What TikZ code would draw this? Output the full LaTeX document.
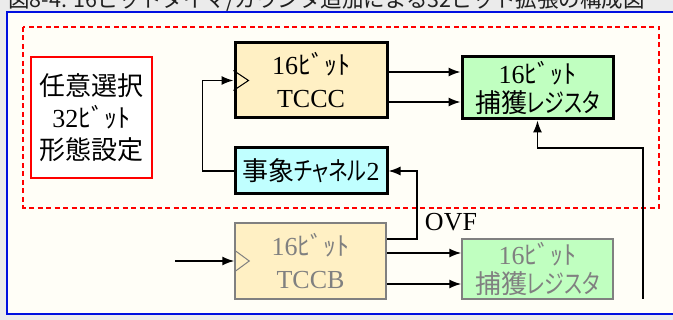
\documentclass[tikz,border=0pt]{standalone}
\usepackage{fontspec}
\setmainfont{Liberation Serif}
\newfontfamily\jp{Noto Sans CJK JP}[RawFeature=+palt]
\newfontfamily\jpk{Noto Sans CJK JP}[RawFeature=+palt, FakeStretch=0.77]
\newfontfamily\jptitle{Noto Sans CJK JP}
\usetikzlibrary{arrows.meta,calc}
\definecolor{bggray}{HTML}{EBEBEB}
\definecolor{panelfill}{HTML}{FFFEF7}
\definecolor{panelblue}{HTML}{0010E0}
\definecolor{dashred}{HTML}{FF0000}
\definecolor{tcfill}{HTML}{FFF0C4}
\definecolor{capfill}{HTML}{C0FFC0}
\definecolor{evfill}{HTML}{C0FFFF}
\definecolor{dimgray}{HTML}{808080}
\definecolor{titlecol}{HTML}{202020}
\newcommand\bitk{{\jp ﾋﾞｯﾄ}}
\tikzset{
  txt/.style={align=center, inner sep=0pt, font=\fontsize{26}{32}\selectfont},
  boldbox/.style={txt, draw=black, line width=3pt},
  dimbox/.style={txt, draw=dimgray, line width=1.5pt, text=dimgray},
  arr/.style={line width=1.5pt, -{Latex[length=12pt,width=9pt]}},
  clk/.style={line width=1pt},
}
\begin{document}
\begin{tikzpicture}[x=1pt,y=-1pt]
\useasboundingbox (0,0) rectangle (673,320);
\clip (0,0) rectangle (673,320);
\fill[bggray] (0,0) rectangle (673,320);
% cut-off title
\begin{scope}
\clip (0,0) rectangle (673,11.5);
\node[anchor=base west, inner sep=0pt, text=titlecol, font=\jptitle\fontsize{21.5}{22}\selectfont] (title) at (8,8) {図8-4. 16ビットタイマ/カウンタ追加による32ビット拡張の構成図};
\end{scope}
% panel
\draw[draw=panelblue, fill=panelfill, line width=2pt] (7,12) rectangle (700,314);
% dashed region
\draw[draw=dashred, line width=1.3pt, dash pattern=on 5pt off 3.5pt] (23,27) rectangle (659,208);
% left red box
\node[txt, draw=dashred, fill=white, line width=1.5pt, minimum width=121pt, minimum height=121pt] (opt) at (91.5,117.5)
  {{\jp 任意選択}\\32\bitk\\{\jp 形態設定}};
% TCCC
\node[boldbox, fill=tcfill, minimum width=152pt, minimum height=75pt, font=\fontsize{26}{33}\selectfont] (tccc) at (311,80.5)
  {16\bitk\\TCCC};
% capture 1
\node[boldbox, fill=capfill, minimum width=151pt, minimum height=62pt, font=\fontsize{26}{29}\selectfont] (cap1) at (537.5,88)
  {16\bitk\\{\jp 捕獲}{\jpk レジスタ}};
% event channel
\node[boldbox, fill=evfill, minimum width=152pt, minimum height=46pt] (ev) at (311,171)
  {{\jp 事象}{\jpk チャネル}2};
% TCCB
\node[dimbox, fill=tcfill, minimum width=151pt, minimum height=76pt, font=\fontsize{26}{33}\selectfont] (tccb) at (310.5,261)
  {16\bitk\\TCCB};
% capture 2
\node[dimbox, fill=capfill, minimum width=151pt, minimum height=60pt, font=\fontsize{26}{29}\selectfont] (cap2) at (537.5,269)
  {16\bitk\\{\jp 捕獲}{\jpk レジスタ}};
% clock marks
\draw[clk, black] ([yshift=10pt]tccc.west) -- ++(15pt,-10pt) -- ++(-15pt,-10pt);
\draw[clk, dimgray] ([yshift=11pt]tccb.west) -- ++(15pt,-11pt) -- ++(-15pt,-11pt);
% TCCC -> capture 1
\draw[arr] ([yshift=8.5pt]tccc.east) coordinate (a1) -- (a1 -| cap1.west);
\draw[arr] ([yshift=-21.5pt]tccc.east) coordinate (a2) -- (a2 -| cap1.west);
% event channel -> TCCC
\draw[arr] (ev.west) -- ++(-31pt,0pt) |- (tccc.west);
% TCCB overflow -> event channel
\draw[arr] ([yshift=22pt]tccb.east) -- ++(30pt,0pt) |- (ev.east);
\node[inner sep=0pt, font=\fontsize{26}{26}\selectfont] (ovf) at (451,222) {OVF};
% TCCB -> capture 2
\draw[arr] ([yshift=8pt]tccb.east) coordinate (b1) -- (b1 -| cap2.west);
\draw[arr] ([yshift=-23pt]tccb.east) coordinate (b2) -- (b2 -| cap2.west);
% input to TCCB
\coordinate (inb) at (175,261);
\draw[arr] (inb) -- (tccb.west);
% right line up to capture 1
\coordinate (rb) at (643,299);
\coordinate (rt) at (643,148);
\draw[arr] (rb) -- (rt) -| (cap1.south);
\end{tikzpicture}
\end{document}
